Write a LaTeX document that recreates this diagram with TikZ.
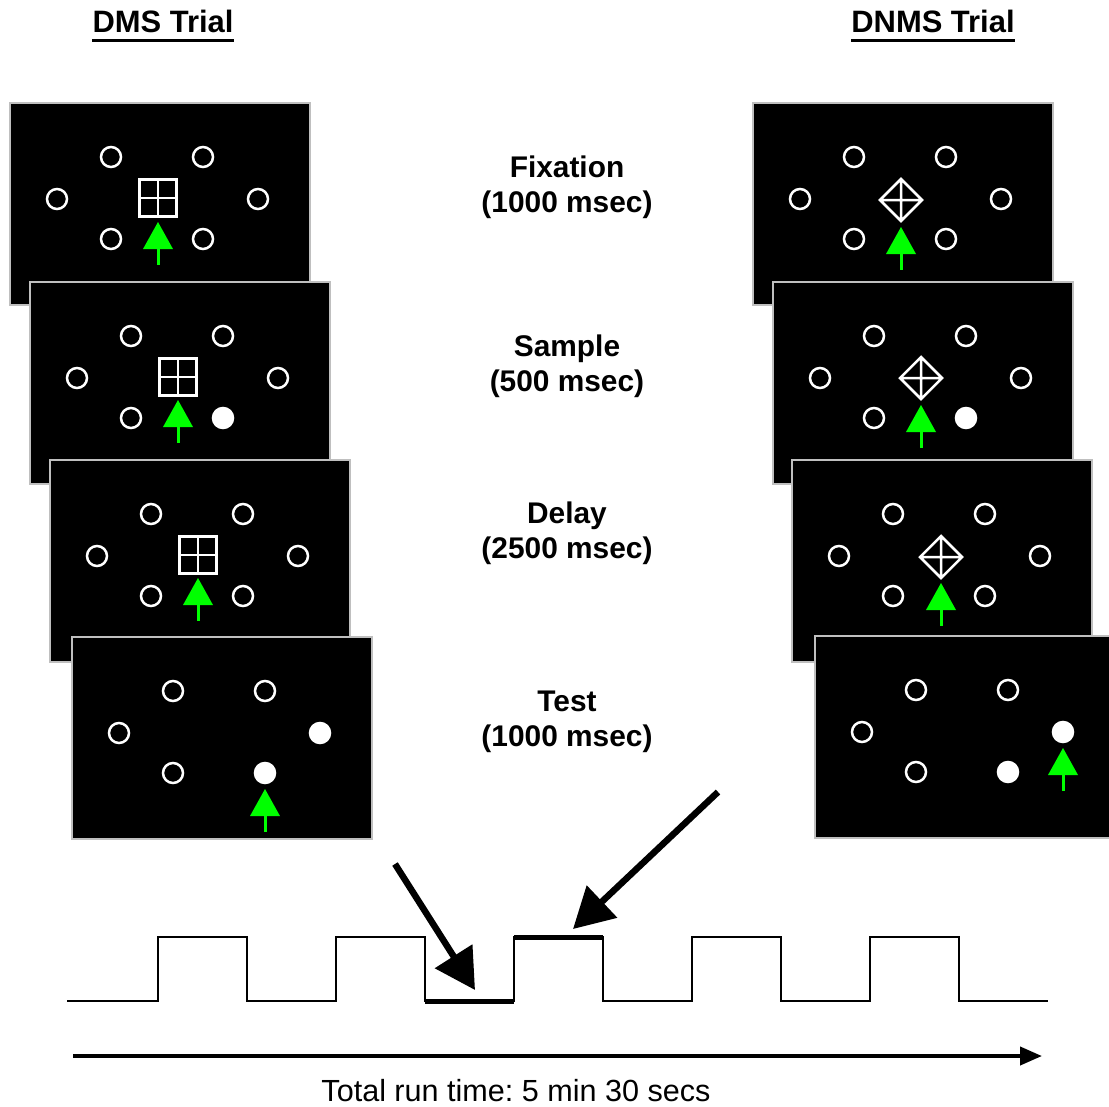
\documentclass[tikz,border=0pt]{standalone}
\usepackage{fontspec}
\setmainfont{Liberation Sans}
\usetikzlibrary{arrows.meta}
\frenchspacing

\begin{document}
\begin{tikzpicture}[
    x = 0.02cm, y = -0.02cm,
    monitor/.style = {fill=black, draw=white!75!black, line width=0.04cm},
    ring/.style = {draw=white, line width=0.05cm},
    filled/.style = {fill=white},
    glyph/.style = {draw=white, line width=0.05cm},
    cue/.style = {fill=green},
    title/.style = {font=\fontsize{17.6}{21}\selectfont\bfseries, inner sep=0pt},
    uline/.style = {line width=0.06cm},
    phase/.style = {align=center, font=\fontsize{17}{19.9}\selectfont\bfseries},
    note/.style = {font=\fontsize{17.4}{20}\selectfont, inner sep=0pt},
    wave/.style = {line width=0.05cm},
    hold/.style = {line width=0.1cm},
    pointer/.style = {line width=0.13cm, -{Triangle[length=0.8cm, width=0.86cm]}},
    timeline/.style = {line width=0.08cm, -{Triangle[length=0.44cm, width=0.36cm]}},
    screen/.pic = {
        \path[monitor] (0,0) rectangle (300,202);
        \foreach \cx/\cy in {101/54, 193/54, 47/96, 248/96, 101/136, 193/136}
            \draw[ring] (\cx,\cy) circle (10);
    },
    crosssq/.pic = {
        \draw[glyph] (-18.5,-18.5) rectangle (18.5,18.5)
            (0,-18.5) -- (0,18.5) (-18.5,0) -- (18.5,0);
    },
    crossdiam/.pic = {
        \draw[glyph] (0,-21) -- (21,0) -- (0,21) -- (-21,0) -- cycle
            (0,-21) -- (0,21) (-21,0) -- (21,0);
    },
    cuearrow/.pic = {
        \fill[cue] (0,0) -- (15,27) -- (-15,27) -- cycle;
        \fill[cue] (-1.5,26) rectangle (1.5,43);
    }
]
\useasboundingbox (0,0) rectangle (1109,1106);

% Titles
\node [title, anchor=base] (dms) at (163,32) {DMS Trial};
\node [title, anchor=base] (dnms) at (933,32) {DNMS Trial};
\draw [uline] ([yshift=-0.16cm]dms.base west) -- ([yshift=-0.16cm]dms.base east);
\draw [uline] ([yshift=-0.16cm]dnms.base west) -- ([yshift=-0.16cm]dnms.base east);

% DMS screens
\begin{scope}[shift={(10,103)}]
    \pic {screen};
    \pic at (148,95) {crosssq};
    \pic at (148,119) {cuearrow};
\end{scope}
\begin{scope}[shift={(30,282)}]
    \pic {screen};
    \fill [filled] (193,136) circle (10);
    \pic at (148,95) {crosssq};
    \pic at (148,118) {cuearrow};
\end{scope}
\begin{scope}[shift={(50,460)}]
    \pic {screen};
    \pic at (148,95) {crosssq};
    \pic at (148,118) {cuearrow};
\end{scope}
\begin{scope}[shift={(72,637)}]
    \pic {screen};
    \fill [filled] (248,96) circle (10);
    \fill [filled] (193,136) circle (10);
    \pic at (193,152) {cuearrow};
\end{scope}

% DNMS screens
\begin{scope}[shift={(753,103)}]
    \pic {screen};
    \pic at (148,97) {crossdiam};
    \pic at (148,124) {cuearrow};
\end{scope}
\begin{scope}[shift={(773,282)}]
    \pic {screen};
    \fill [filled] (193,136) circle (10);
    \pic at (148,96) {crossdiam};
    \pic at (148,123) {cuearrow};
\end{scope}
\begin{scope}[shift={(792,460)}]
    \pic {screen};
    \pic at (149,97) {crossdiam};
    \pic at (149,123) {cuearrow};
\end{scope}
\begin{scope}[shift={(815,636)}]
    \pic {screen};
    \fill [filled] (248,96) circle (10);
    \fill [filled] (193,136) circle (10);
    \pic at (248,112) {cuearrow};
\end{scope}

% Phase labels
\node [phase] (fix) at (567,187) {Fixation\\(1000 msec)};
\node [phase] (samp) at (567,366) {Sample\\(500 msec)};
\node [phase] (delay) at (567,533) {Delay\\(2500 msec)};
\node [phase] (test) at (567,722) {Test\\(1000 msec)};

% Block timing
\draw [wave] (67,1001) -- (158,1001) -- (158,937) -- (247,937) -- (247,1001)
    -- (336,1001) -- (336,937) -- (425,937) -- (425,1001) -- (514,1001)
    -- (514,937) -- (603,937) -- (603,1001) -- (692,1001) -- (692,937)
    -- (781,937) -- (781,1001) -- (870,1001) -- (870,937) -- (959,937)
    -- (959,1001) -- (1048,1001);
\draw [hold] (425,1001) -- (514,1001);
\draw [hold] (514,937) -- (603,937);

% Arrows
\coordinate (p1s) at (395,864);
\coordinate (p1e) at (475,990);
\coordinate (p2s) at (718,792);
\coordinate (p2e) at (573,929);
\draw [pointer] (p1s) -- (p1e);
\draw [pointer] (p2s) -- (p2e);

\coordinate (t0) at (73,1056);
\coordinate (t1) at (1042,1056);
\draw [timeline] (t0) -- (t1);
\node [note, anchor=base] (total) at (516,1101) {Total run time: 5 min 30 secs};

\end{tikzpicture}
\end{document}
